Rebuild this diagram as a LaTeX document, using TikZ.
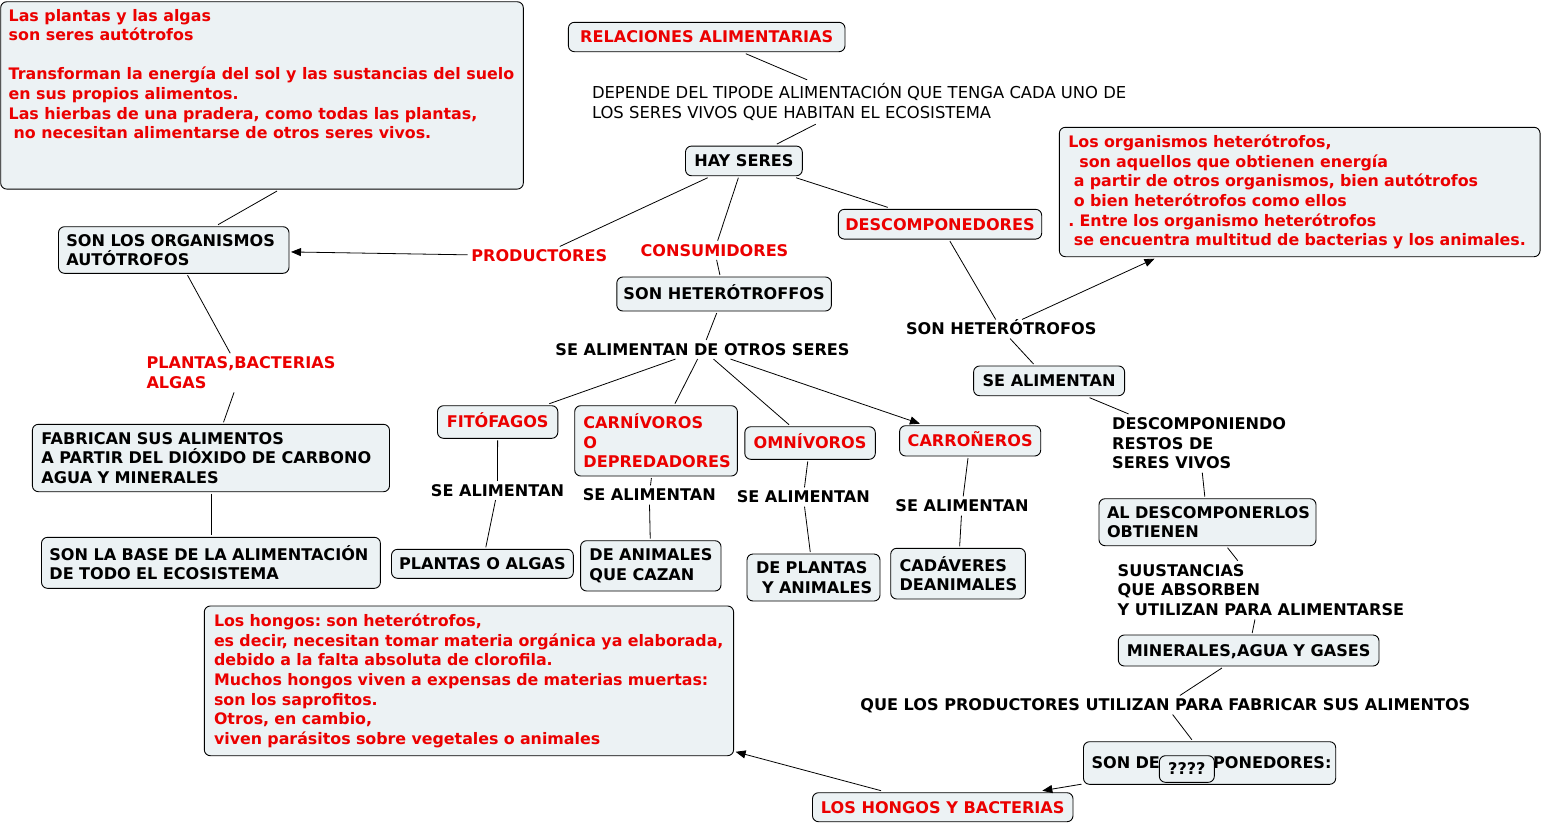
\documentclass[tikz,border=0pt]{standalone}
\usepackage{fontspec}
\setmainfont{DejaVu Sans}
\usetikzlibrary{arrows.meta}
\definecolor{bfill}{RGB}{236,242,244}
\definecolor{rtext}{RGB}{235,0,0}
\frenchspacing
\newcommand\fs{\fontsize{16.1}{19.6}\selectfont}
\newcommand\fn{\fontsize{15.85}{19.6}\selectfont}
\newcommand\fr{\fontsize{16.4}{19.6}\selectfont}
\tikzset{
  bx/.style={draw=black, line width=0.9pt, rounded corners=6pt, fill=bfill, inner sep=0pt, outer sep=2pt, font=\bfseries\fs},
  lbl/.style={inner sep=3.5pt, font=\bfseries\fs},
  txt/.style={inner sep=0pt, font=\bfseries\fs},
  one/.style={text height=11.7pt, text depth=0pt},
  rtx/.style={text=rtext},
  con/.style={draw=black, line width=0.8pt},
  arr/.style={-{Triangle[length=10pt,width=8pt]}}
}
\begin{document}
\begin{tikzpicture}[x=1pt,y=-1pt]
\fill[white] (0,0) rectangle (1543,823);
\useasboundingbox (0,0) rectangle (1543,823);

% ---------- boxes ----------
\node[bx,minimum width=522.6pt,minimum height=187.3pt] (note1) at (262,95.4) {};
\node[txt,rtx,font=\bfseries\fn,anchor=west,align=left] (note1t) at (8.5,74) {Las plantas y las algas\\son seres autótrofos\\[19.6pt]Transforman la energía del sol y las sustancias del suelo\\en sus propios alimentos.\\Las hierbas de una pradera, como todas las plantas,\\\hspace*{5pt}no necesitan alimentarse de otros seres vivos.};

\node[bx,one,rtx,minimum width=276.6pt,minimum height=29.4pt] (rel) at (706.7,37) {RELACIONES ALIMENTARIAS};
\node[lbl,font=\fr,anchor=west,align=left] (dep) at (588.3,102) {DEPENDE DEL TIPODE ALIMENTACIÓN QUE TENGA CADA UNO DE\\LOS SERES VIVOS QUE HABITAN EL ECOSISTEMA};
\node[bx,one,minimum width=116.8pt,minimum height=29.7pt] (hay) at (743.9,160.9) {HAY SERES};

\node[bx,rtx,font=\bfseries\fn,minimum width=480.7pt,minimum height=129.4pt,text width=462.7pt,align=left] (note2) at (1299.7,192) {\mbox{Los organismos heterótrofos,}\\\mbox{\hspace*{11pt}son aquellos que obtienen energía}\\\mbox{\hspace*{5.5pt}a partir de otros organismos, bien autótrofos}\\\mbox{\hspace*{5.5pt}o bien heterótrofos como ellos}\\\mbox{. Entre los organismo heterótrofos}\\\mbox{\hspace*{5.5pt}se encuentra multitud de bacterias y los animales.}};

\node[bx,minimum width=230.5pt,minimum height=46.6pt,text width=214.7pt,align=left] (aut) at (173.75,250) {\mbox{SON LOS ORGANISMOS}\\\mbox{AUTÓTROFOS}};
\node[lbl,one,rtx] (prod) at (539.25,256) {PRODUCTORES};
\node[lbl,one,rtx] (cons) at (714.5,250.3) {CONSUMIDORES};
\node[bx,one,rtx,minimum width=203.4pt,minimum height=29.7pt] (desc) at (940,224.2) {DESCOMPONEDORES};

\node[bx,one,minimum width=214.6pt,minimum height=34pt] (sht) at (724.1,294) {SON HETERÓTROFFOS};
\node[lbl,one] (seot) at (702.5,349.5) {SE ALIMENTAN DE OTROS SERES};
\node[lbl,one] (shf) at (1001.25,329) {SON HETERÓTROFOS};
\node[bx,one,minimum width=151pt,minimum height=29.7pt] (sea) at (1049.1,380.85) {SE ALIMENTAN};

\node[lbl,rtx,anchor=west,align=left] (pba) at (142.8,372.8) {PLANTAS,BACTERIAS\\ALGAS};
\node[bx,minimum width=357.1pt,minimum height=67.4pt,text width=338.9pt,align=left] (fab) at (210.95,458) {\mbox{FABRICAN SUS ALIMENTOS}\\\mbox{A PARTIR DEL DIÓXIDO DE CARBONO}\\\mbox{AGUA Y MINERALES}};
\node[bx,minimum width=338.9pt,minimum height=51pt,text width=323.1pt,align=left] (base) at (210.95,562.8) {\mbox{SON LA BASE DE LA ALIMENTACIÓN}\\\mbox{DE TODO EL ECOSISTEMA}};

\node[bx,one,rtx,minimum width=120.3pt,minimum height=32.6pt] (fit) at (497.65,422) {FITÓFAGOS};
\node[bx,rtx,minimum width=162.7pt,minimum height=70.3pt,text width=145.3pt,align=left] (car) at (656.05,440.85) {\mbox{CARNÍVOROS}\\\mbox{O}\\\mbox{DEPREDADORES}};
\node[bx,one,rtx,minimum width=130.5pt,minimum height=32.6pt] (omn) at (810.05,443) {OMNÍVOROS};
\node[bx,one,rtx,minimum width=141.1pt,minimum height=30.3pt] (carr) at (970.15,440.85) {CARROÑEROS};

\node[lbl,one] (sa1) at (497.5,490.5) {SE ALIMENTAN};
\node[lbl,one] (sa2) at (649.3,495) {SE ALIMENTAN};
\node[lbl,one] (sa3) at (803.3,497) {SE ALIMENTAN};
\node[lbl,one] (sa4) at (962,506) {SE ALIMENTAN};

\node[bx,one,minimum width=181.8pt,minimum height=29pt] (pla) at (482.4,563.8) {PLANTAS O ALGAS};
\node[bx,minimum width=140.4pt,minimum height=50.3pt,text width=122.8pt,align=left] (dan) at (650.8,565.85) {\mbox{DE ANIMALES}\\\mbox{QUE CAZAN}};
\node[bx,minimum width=133pt,minimum height=47pt,text width=115pt,align=left] (dpa) at (813.5,577.5) {\mbox{DE PLANTAS}\\\mbox{\hspace*{6pt}Y ANIMALES}};
\node[bx,minimum width=134.7pt,minimum height=50.7pt,text width=116.9pt,align=left] (cad) at (958.05,573.65) {\mbox{CADÁVERES}\\\mbox{DEANIMALES}};

\node[lbl,anchor=west,align=left] (dsc) at (1108.5,443.3) {DESCOMPONIENDO\\RESTOS DE\\SERES VIVOS};
\node[bx,minimum width=217pt,minimum height=47pt,text width=201pt,align=left] (ald) at (1207.5,522.2) {\mbox{AL DESCOMPONERLOS}\\\mbox{OBTIENEN}};
\node[lbl,anchor=west,align=left] (suu) at (1114,590.1) {SUUSTANCIAS\\QUE ABSORBEN\\Y UTILIZAN PARA ALIMENTARSE};
\node[bx,one,minimum width=260.7pt,minimum height=31pt] (min) at (1248.65,650.5) {MINERALES,AGUA Y GASES};

\node[bx,rtx,font=\bfseries\fn,minimum width=529.3pt,minimum height=149.7pt,text width=509.9pt,align=left] (note3) at (468.95,680.85) {\mbox{Los hongos: son heterótrofos,}\\\mbox{es decir, necesitan tomar materia orgánica ya elaborada,}\\\mbox{debido a la falta absoluta de clorofila.}\\\mbox{Muchos hongos viven a expensas de materias muertas:}\\\mbox{son los saprofitos.}\\\mbox{Otros, en cambio,}\\\mbox{viven parásitos sobre vegetales o animales}};

\node[lbl,one] (que) at (1165.35,705) {QUE LOS PRODUCTORES UTILIZAN PARA FABRICAR SUS ALIMENTOS};
\node[bx,one,minimum width=252.2pt,minimum height=42.6pt,text width=236.2pt,align=left] (sdc) at (1209.6,763) {\mbox{SON DESCOMPONEDORES:}};
\node[bx,one,minimum width=54.9pt,minimum height=26.6pt] (q) at (1186.85,769) {????};
\node[bx,one,rtx,minimum width=260.5pt,minimum height=29pt] (hb) at (942.75,807.2) {LOS HONGOS Y BACTERIAS};

% ---------- connectors ----------
\draw[con] (rel) -- (dep);
\draw[con] (dep) -- (hay);
\draw[con] (hay) -- (prod);
\draw[con] (hay) -- (cons);
\draw[con] (hay) -- (desc);
\draw[con,arr] (prod) -- (aut);
\draw[con] (aut) -- ([xshift=15pt]note1.south);
\draw[con] (aut) -- (pba);
\draw[con] (pba) -- (fab);
\draw[con] (fab) -- (base);
\draw[con] (cons) -- (sht);
\draw[con] (sht) -- (seot);
\draw[con] (seot) -- (fit);
\draw[con] (seot) -- (car);
\draw[con] (seot) -- (omn);
\draw[con,arr] (seot) -- (carr);
\draw[con] (fit) -- (sa1);
\draw[con] (sa1) -- (pla);
\draw[con] (car) -- (sa2);
\draw[con] (sa2) -- (dan);
\draw[con] (omn) -- (sa3);
\draw[con] (sa3) -- (dpa);
\draw[con] (carr) -- (sa4);
\draw[con] (sa4) -- (cad);
\draw[con] (desc) -- (shf);
\draw[con,arr] (shf) -- (note2);
\draw[con] (shf) -- (sea);
\draw[con] (sea) -- (dsc);
\draw[con] (dsc) -- (ald);
\draw[con] (ald) -- (suu);
\draw[con] (suu) -- (min);
\draw[con] (min) -- (que);
\draw[con] (que) -- (sdc);
\draw[con,arr] (sdc) -- (hb);
\draw[con,arr] (hb) -- (note3);
\end{tikzpicture}
\end{document}
